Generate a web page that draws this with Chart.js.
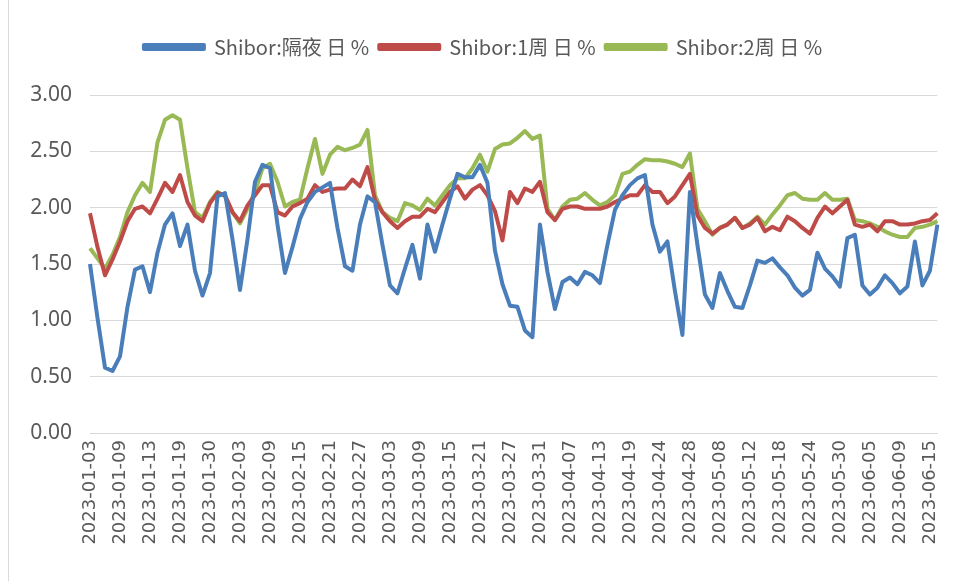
<!DOCTYPE html>
<html lang="zh-CN">
  <head>
    <meta charset="utf-8" />
    <title>Shibor</title>
    <style>
      * {
        margin: 0;
        padding: 0;
      }
      html,
      body {
        overflow: hidden;
        background: #fff;
      }
      .chartCard {
        position: absolute;
        left: 0;
        top: 0;
        width: 966px;
        height: 581px;
      }
      .frame {
        position: absolute;
        left: 8px;
        top: 0;
        width: 1px;
        height: 581px;
        background: #d9d9d9;
      }
    </style>
  </head>
  <body>
    <div class="frame"></div>
    <div class="chartCard">
      <canvas id="myChart"></canvas>
    </div>
    <script src="https://cdn.jsdelivr.net/npm/chart.js"></script>
    <script>
      // setup
      const dates = [
        "2023-01-03", "2023-01-04", "2023-01-05", "2023-01-06", "2023-01-09", "2023-01-10",
        "2023-01-11", "2023-01-12", "2023-01-13", "2023-01-16", "2023-01-17", "2023-01-18",
        "2023-01-19", "2023-01-20", "2023-01-28", "2023-01-29", "2023-01-30", "2023-01-31",
        "2023-02-01", "2023-02-02", "2023-02-03", "2023-02-06", "2023-02-07", "2023-02-08",
        "2023-02-09", "2023-02-10", "2023-02-13", "2023-02-14", "2023-02-15", "2023-02-16",
        "2023-02-17", "2023-02-20", "2023-02-21", "2023-02-22", "2023-02-23", "2023-02-24",
        "2023-02-27", "2023-02-28", "2023-03-01", "2023-03-02", "2023-03-03", "2023-03-06",
        "2023-03-07", "2023-03-08", "2023-03-09", "2023-03-10", "2023-03-13", "2023-03-14",
        "2023-03-15", "2023-03-16", "2023-03-17", "2023-03-20", "2023-03-21", "2023-03-22",
        "2023-03-23", "2023-03-24", "2023-03-27", "2023-03-28", "2023-03-29", "2023-03-30",
        "2023-03-31", "2023-04-03", "2023-04-04", "2023-04-06", "2023-04-07", "2023-04-10",
        "2023-04-11", "2023-04-12", "2023-04-13", "2023-04-14", "2023-04-17", "2023-04-18",
        "2023-04-19", "2023-04-20", "2023-04-21", "2023-04-23", "2023-04-24", "2023-04-25",
        "2023-04-26", "2023-04-27", "2023-04-28", "2023-05-04", "2023-05-05", "2023-05-06",
        "2023-05-08", "2023-05-09", "2023-05-10", "2023-05-11", "2023-05-12", "2023-05-15",
        "2023-05-16", "2023-05-17", "2023-05-18", "2023-05-19", "2023-05-22", "2023-05-23",
        "2023-05-24", "2023-05-25", "2023-05-26", "2023-05-29", "2023-05-30", "2023-05-31",
        "2023-06-01", "2023-06-02", "2023-06-05", "2023-06-06", "2023-06-07", "2023-06-08",
        "2023-06-09", "2023-06-12", "2023-06-13", "2023-06-14", "2023-06-15", "2023-06-16",
      ];

      const overnight = [
        1.50, 1.02, 0.58, 0.55, 0.68, 1.12, 1.45, 1.48, 1.25, 1.60, 1.85, 1.95,
        1.66, 1.85, 1.44, 1.22, 1.42, 2.10, 2.13, 1.72, 1.27, 1.72, 2.23, 2.38,
        2.35, 1.85, 1.42, 1.65, 1.90, 2.05, 2.14, 2.18, 2.22, 1.82, 1.48, 1.44,
        1.85, 2.10, 2.05, 1.67, 1.31, 1.24, 1.46, 1.67, 1.37, 1.85, 1.61, 1.85,
        2.08, 2.30, 2.27, 2.27, 2.38, 2.22, 1.62, 1.32, 1.13, 1.12, 0.91, 0.85,
        1.85, 1.43, 1.10, 1.34, 1.38, 1.32, 1.43, 1.40, 1.33, 1.67, 1.98, 2.11,
        2.20, 2.26, 2.29, 1.85, 1.61, 1.70, 1.26, 0.87, 2.14, 1.67, 1.23, 1.11,
        1.42, 1.26, 1.12, 1.11, 1.31, 1.53, 1.51, 1.55, 1.47, 1.40, 1.29, 1.22,
        1.27, 1.60, 1.46, 1.39, 1.30, 1.73, 1.76, 1.31, 1.23, 1.29, 1.40, 1.33,
        1.24, 1.30, 1.70, 1.31, 1.44, 1.85,
      ];

      const week1 = [
        1.95, 1.65, 1.40, 1.54, 1.70, 1.88, 1.99, 2.01, 1.95, 2.08, 2.22, 2.14,
        2.29, 2.05, 1.93, 1.88, 2.04, 2.13, 2.11, 1.96, 1.88, 2.02, 2.11, 2.20,
        2.20, 1.96, 1.93, 2.01, 2.04, 2.08, 2.20, 2.14, 2.16, 2.17, 2.17, 2.25,
        2.19, 2.36, 2.07, 1.96, 1.88, 1.82, 1.88, 1.92, 1.92, 1.99, 1.96, 2.05,
        2.14, 2.19, 2.08, 2.16, 2.20, 2.11, 1.97, 1.71, 2.14, 2.04, 2.17, 2.14,
        2.23, 1.96, 1.89, 1.99, 2.01, 2.01, 1.99, 1.99, 1.99, 2.01, 2.05, 2.08,
        2.11, 2.11, 2.20, 2.14, 2.14, 2.04, 2.10, 2.20, 2.30, 1.93, 1.82, 1.77,
        1.82, 1.85, 1.91, 1.82, 1.85, 1.91, 1.79, 1.83, 1.80, 1.92, 1.88, 1.82,
        1.77, 1.91, 2.01, 1.95, 2.01, 2.07, 1.85, 1.83, 1.85, 1.79, 1.88, 1.88,
        1.85, 1.85, 1.86, 1.88, 1.89, 1.95,
      ];

      const week2 = [
        1.64, 1.55, 1.46, 1.58, 1.74, 1.96, 2.11, 2.22, 2.14, 2.58, 2.78, 2.82,
        2.78, 2.35, 1.96, 1.91, 2.05, 2.14, 2.10, 1.96, 1.86, 1.99, 2.14, 2.35,
        2.39, 2.23, 2.01, 2.05, 2.07, 2.35, 2.61, 2.30, 2.47, 2.54, 2.51, 2.53,
        2.56, 2.69, 2.11, 1.96, 1.91, 1.88, 2.04, 2.02, 1.98, 2.08, 2.02, 2.11,
        2.20, 2.26, 2.26, 2.35, 2.47, 2.32, 2.52, 2.56, 2.57, 2.62, 2.68, 2.61,
        2.64, 1.99, 1.89, 2.01, 2.07, 2.08, 2.13, 2.07, 2.02, 2.05, 2.11, 2.30,
        2.32, 2.38, 2.43, 2.42, 2.42, 2.41, 2.39, 2.36, 2.48, 1.99, 1.88, 1.76,
        1.82, 1.85, 1.91, 1.82, 1.86, 1.92, 1.85, 1.94, 2.02, 2.11, 2.13, 2.08,
        2.07, 2.07, 2.13, 2.07, 2.07, 2.08, 1.89, 1.88, 1.86, 1.83, 1.79, 1.76,
        1.74, 1.74, 1.82, 1.83, 1.85, 1.88,
      ];

      const yTicks = [0, 0.5, 1, 1.5, 2, 2.5, 3];

      const line = (label, values, color) => ({
        label,
        data: values,
        borderColor: color,
        backgroundColor: color,
        borderWidth: 4,
        pointRadius: 0,
        tension: 0,
        borderJoinStyle: "round",
      });

      const data = {
        labels: dates,
        datasets: [
          line("Shibor:隔夜 日 %", overnight, "#4a7ebb"),
          line("Shibor:1周 日 %", week1, "#be4b48"),
          line("Shibor:2周 日 %", week2, "#98b954"),
        ],
      };

      // config
      const config = {
        type: "line",
        data,
        options: {
          responsive: true,
          maintainAspectRatio: false,
          animation: false,
          layout: {
            padding: { top: 27, left: 0, right: 0, bottom: 0 },
          },
          plugins: {
            tooltip: { enabled: false },
            legend: {
              position: "top",
              weight: 1000,
              labels: {
                boxWidth: 60,
                boxHeight: 4,
                padding: 10,
                color: "#595959",
                font: { family: "'Noto Sans CJK SC'", size: 20 },
              },
            },
            // empty title, only a spacer under the legend
            title: {
              display: true,
              text: "",
              position: "top",
              weight: 500,
              font: { size: 10 },
              padding: { top: 0, bottom: 16 },
            },
          },
          scales: {
            x: {
              offset: false,
              grid: { display: false, drawTicks: false },
              border: { display: true, color: "#d9d9d9" },
              ticks: {
                autoSkip: false,
                maxRotation: 90,
                minRotation: 90,
                padding: 7,
                color: "#595959",
                font: { family: "'DejaVu Sans'", size: 18 },
                callback: (v, i) => (i % 4 === 0 ? dates[i] : ""),
              },
              afterFit: (scale) => {
                scale.height = 148;
              },
            },
            y: {
              min: 0,
              max: 3,
              afterBuildTicks: (scale) => {
                scale.ticks = yTicks.map((v) => ({ value: v }));
              },
              grid: { color: "#d9d9d9", drawTicks: false },
              border: { display: false },
              ticks: {
                padding: 18,
                color: "#595959",
                font: { family: "'Noto Sans'", size: 21 },
                callback: (v) => v.toFixed(2),
              },
              afterFit: (scale) => {
                scale.width = 90;
              },
            },
          },
        },
      };

      // render init block
      const myChart = new Chart(document.getElementById("myChart"), config);
    </script>
  </body>
</html>
